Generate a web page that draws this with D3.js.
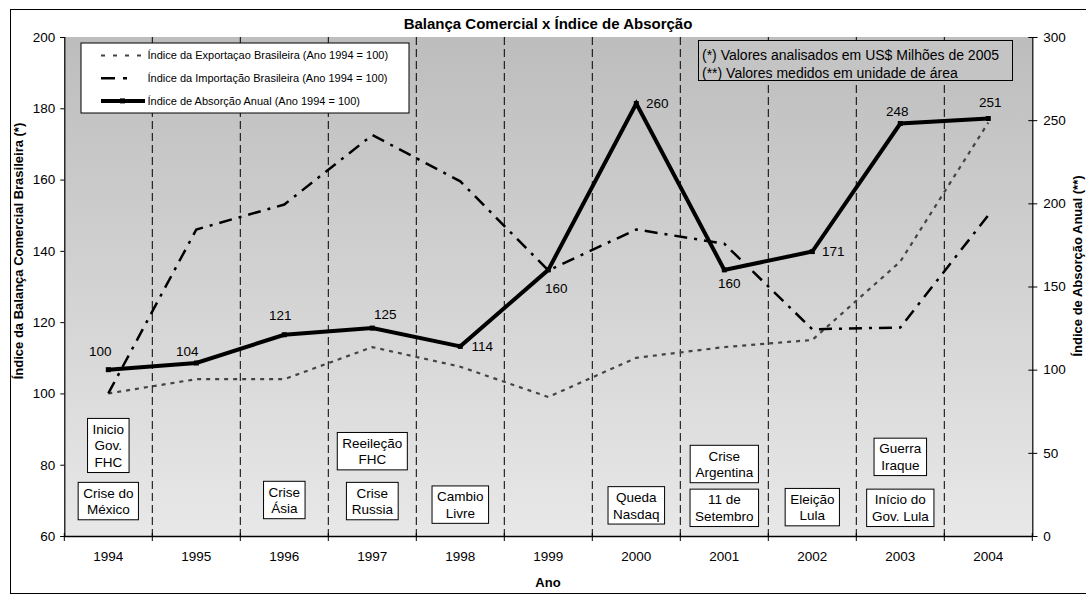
<!DOCTYPE html>
<head>
<meta charset="utf-8">
<title>Balança Comercial x Índice de Absorção</title>
<style>
html, body { margin: 0; padding: 0; background: #fff; }
body { font-family: 'Liberation Sans', Arial, sans-serif; }
text { font-family: 'Liberation Sans', Arial, sans-serif; fill: #000; }
.grid { stroke: #000; stroke-width: 1; stroke-dasharray: 8,4; }
.annot rect { fill: #fff; stroke: #000; stroke-width: 1; }
</style>
</head>
<body>
<svg width="1086" height="596"></svg>
<script src="https://d3js.org/d3.v7.min.js"></script>
<script>
var years = [1994, 1995, 1996, 1997, 1998, 1999, 2000, 2001, 2002, 2003, 2004];
var exportacao = [100, 104, 104, 113, 107.5, 99, 110, 113, 115, 137, 176];
var importacao = [100, 146, 153, 172.5, 159.5, 134.5, 146, 142, 118, 118.5, 150];
var absorcao = [100, 104, 121, 125, 114, 160, 260, 160, 171, 248, 251];
var leftTicks = [60, 80, 100, 120, 140, 160, 180, 200];
var rightTicks = [0, 50, 100, 150, 200, 250, 300];

// events: year, vertical centre in left-axis units, text lines
var eventos = [
  {year: 1994, v: 85.4, lines: ["Inicio", "Gov.", "FHC"]},
  {year: 1994, v: 69.8, lines: ["Crise do", "México"]},
  {year: 1996, v: 70.1, lines: ["Crise", "Ásia"]},
  {year: 1997, v: 83.8, lines: ["Reeileção", "FHC"]},
  {year: 1997, v: 69.8, lines: ["Crise", "Russia"]},
  {year: 1998, v: 68.8, lines: ["Cambio", "Livre"]},
  {year: 2000, v: 68.6, lines: ["Queda", "Nasdaq"]},
  {year: 2001, v: 80.2, lines: ["Crise", "Argentina"]},
  {year: 2001, v: 67.9, lines: ["11 de", "Setembro"]},
  {year: 2002, v: 68.1, lines: ["Eleição", "Lula"]},
  {year: 2003, v: 82.2, lines: ["Guerra", "Iraque"]},
  {year: 2003, v: 67.9, lines: ["Início do", "Gov. Lula"]}
];

// label offsets for absorption values (Excel-like placement)
var labelOffsets = [[-8,-18],[-9,-12],[-4,-19],[13,-14],[22,0],[8,18],[21,0],[5,13],[21,0],[-3,-12],[2,-16]];

var svg = d3.select("svg");
var margin = {left: 64.3, right: 1032.3, top: 37, bottom: 536};

var x = d3.scaleBand().domain(years).range([margin.left, margin.right]).padding(0);
var yL = d3.scaleLinear().domain([60, 200]).range([margin.bottom, margin.top]);
var yR = d3.scaleLinear().domain([0, 300]).range([margin.bottom, margin.top]);
var cx = function(yr) { return x(yr) + x.bandwidth() / 2; };

// outer border
svg.append("rect")
  .attr("x", 10.5).attr("y", 9.5).attr("width", 1100).attr("height", 584)
  .attr("fill", "#fff").attr("stroke", "#000").attr("stroke-width", 1);

// plot background gradient
var grad = svg.append("defs").append("linearGradient")
  .attr("id", "bg").attr("x1", 0).attr("y1", 0).attr("x2", 0).attr("y2", 1);
grad.append("stop").attr("offset", "0%").attr("stop-color", "#bdbdbd");
grad.append("stop").attr("offset", "100%").attr("stop-color", "#e8e8e8");

svg.append("rect")
  .attr("x", margin.left).attr("y", margin.top)
  .attr("width", margin.right - margin.left).attr("height", margin.bottom - margin.top)
  .attr("fill", "url(#bg)");

// vertical dashed separators
svg.selectAll(".grid").data(years.slice(1))
  .enter().append("line")
    .attr("class", "grid")
    .attr("x1", function(d) { return x(d); }).attr("x2", function(d) { return x(d); })
    .attr("y1", margin.top).attr("y2", margin.bottom);

// axes
var axisL = svg.append("g").attr("transform", "translate(" + margin.left + ",0)")
  .call(d3.axisLeft(yL).tickValues(leftTicks).tickSize(4).tickPadding(5));
var axisR = svg.append("g").attr("transform", "translate(" + margin.right + ",0)")
  .call(d3.axisRight(yR).tickValues(rightTicks).tickSize(5).tickPadding(6));
[axisL, axisR].forEach(function(a) {
  a.select(".domain").attr("stroke", "#000").attr("stroke-width", 1.2);
  a.selectAll(".tick line").attr("stroke", "#000");
  a.selectAll("text").style("font-size", "13.5px").attr("fill", "#000");
});
axisR.selectAll(".tick line").attr("x1", -4);

var axisB = svg.append("g").attr("transform", "translate(0," + margin.bottom + ")")
  .call(d3.axisBottom(x).tickSize(0).tickPadding(15));
axisB.select(".domain").attr("stroke", "#000").attr("stroke-width", 1.5);
axisB.selectAll("text").style("font-size", "13.5px").attr("fill", "#000");
svg.selectAll(".xtick").data(years.concat([2005]))
  .enter().append("line")
    .attr("x1", function(d, i) { return margin.left + i * x.bandwidth(); })
    .attr("x2", function(d, i) { return margin.left + i * x.bandwidth(); })
    .attr("y1", margin.bottom - 3).attr("y2", margin.bottom + 5)
    .attr("stroke", "#000");

// series
var lineL = d3.line().x(function(d, i) { return cx(years[i]); }).y(function(d) { return yL(d); });
var lineR = d3.line().x(function(d, i) { return cx(years[i]); }).y(function(d) { return yR(d); });

svg.append("path").datum(exportacao).attr("d", lineL)
  .attr("fill", "none").attr("stroke", "#444").attr("stroke-width", 2.2)
  .attr("stroke-dasharray", "4,5");
svg.append("path").datum(importacao).attr("d", lineL)
  .attr("fill", "none").attr("stroke", "#000").attr("stroke-width", 2.5)
  .attr("stroke-dasharray", "13,7,3,7");
svg.append("path").datum(absorcao).attr("d", lineR)
  .attr("fill", "none").attr("stroke", "#000").attr("stroke-width", 4)
  .attr("stroke-linejoin", "miter");
svg.selectAll(".mk").data(absorcao).enter().append("rect")
  .attr("x", function(d, i) { return cx(years[i]) - 2.5; })
  .attr("y", function(d) { return yR(d) - 2.5; })
  .attr("width", 5).attr("height", 5).attr("fill", "#000");

svg.selectAll(".vlabel").data(absorcao).enter().append("text")
  .attr("x", function(d, i) { return cx(years[i]) + labelOffsets[i][0]; })
  .attr("y", function(d, i) { return yR(d) + labelOffsets[i][1]; })
  .attr("dy", "0.35em")
  .attr("text-anchor", "middle")
  .style("font-size", "13.5px")
  .text(function(d) { return d; });

// event boxes
var ev = svg.selectAll(".annot").data(eventos).enter().append("g").attr("class", "annot");
ev.each(function(d) {
  var g = d3.select(this);
  var lh = 16.7;
  var rect = g.append("rect");
  var cxv = cx(d.year), cyv = yL(d.v);
  var h = d.lines.length * lh + 4;
  var t = g.append("text").attr("text-anchor", "middle").style("font-size", "13.5px");
  d.lines.forEach(function(l, i) {
    t.append("tspan").attr("x", cxv)
      .attr("y", cyv - h / 2 + 2 + lh * i + lh / 2).attr("dy", "0.36em").text(l);
  });
  var w = t.node().getBBox().width + 10;
  rect.attr("x", cxv - w / 2).attr("y", cyv - h / 2).attr("width", w).attr("height", h);
});

// legend
var leg = svg.append("g");
leg.append("rect").attr("x", 81).attr("y", 43).attr("width", 328).attr("height", 70)
  .attr("fill", "#fff").attr("stroke", "#000");
var legItems = [
  {label: "Índice da Exportaçao Brasileira (Ano 1994 = 100)", stroke: "#444", w: 2.2, dash: "4,8"},
  {label: "Índice da Importação Brasileira (Ano 1994 = 100)", stroke: "#000", w: 2.5, dash: "14,8,4,20"},
  {label: "Índice de Absorção Anual (Ano 1994 = 100)", stroke: "#000", w: 4, dash: null}
];
legItems.forEach(function(d, i) {
  var yy = 55.5 + i * 22.7;
  leg.append("line").attr("x1", 101).attr("x2", 145).attr("y1", yy).attr("y2", yy)
    .attr("stroke", d.stroke).attr("stroke-width", d.w).attr("stroke-dasharray", d.dash);
  if (!d.dash) leg.append("rect").attr("x", 120).attr("y", yy - 2.5).attr("width", 5).attr("height", 5);
  leg.append("text").attr("x", 147.5).attr("y", yy).attr("dy", "0.35em")
    .style("font-size", "11px").text(d.label);
});

// note box
var note = svg.append("g");
note.append("rect").attr("x", 698.5).attr("y", 40.5).attr("width", 314).attr("height", 40)
  .attr("fill", "#c4c4c4").attr("stroke", "#000").attr("stroke-width", 1);
note.append("text").attr("x", 702).attr("y", 55).attr("dy", "0.35em").style("font-size", "14px")
  .text("(*) Valores analisados em US$ Milhões de 2005");
note.append("text").attr("x", 702).attr("y", 73).attr("dy", "0.35em").style("font-size", "14px")
  .text("(**) Valores medidos em unidade de área");

// titles
svg.append("text").attr("x", 548).attr("y", 24).attr("dy", "0.35em").attr("text-anchor", "middle")
  .style("font-size", "15px").style("font-weight", "bold")
  .text("Balança Comercial x Índice de Absorção");
svg.append("text").attr("x", 548).attr("y", 582).attr("dy", "0.35em").attr("text-anchor", "middle")
  .style("font-size", "13px").style("font-weight", "bold").text("Ano");
svg.append("text").attr("transform", "translate(18,251) rotate(-90)")
  .attr("dy", "0.35em").attr("text-anchor", "middle")
  .style("font-size", "13px").style("font-weight", "bold")
  .text("Índice da Balança Comercial Brasileira (*)");
svg.append("text").attr("transform", "translate(1077,266) rotate(-90)")
  .attr("dy", "0.35em").attr("text-anchor", "middle")
  .style("font-size", "13px").style("font-weight", "bold")
  .text("Índice de Absorção Anual (**)");
</script>
</body>
